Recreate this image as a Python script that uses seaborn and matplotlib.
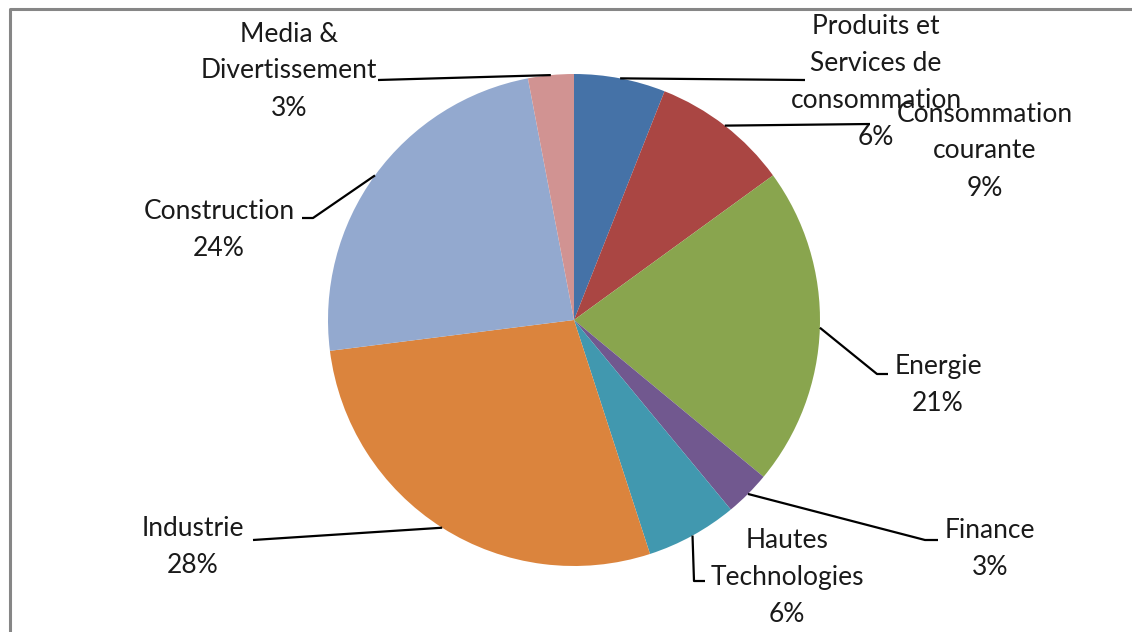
import matplotlib
import matplotlib.pyplot as plt
import numpy as np
import seaborn as sns

matplotlib.use("agg")

# data
sectors = ["Produits et\nServices de\nconsommation", "Consommation\ncourante", "Energie",
           "Finance", "Hautes\nTechnologies", "Industrie", "Construction",
           "Media &\nDivertissement"]
shares = [6, 9, 21, 3, 6, 28, 24, 3]
colors = ["#4572A7", "#AA4643", "#89A54E", "#71588F", "#4198AF", "#DB843D",
          "#93A9CF", "#D19392"]

# label layout in pixels (x, y from top): text centre, leader elbow, leader end
W, H = 1132, 632
CX, CY, R = 574, 320, 246
label_pos = [(876, 82), (985, 151), (938, 385), (990, 549), (787, 577),
             (193, 547), (219, 230), (289, 71)]
elbows = [None, None, (877, 374), (925, 540), (694, 581), None, (313, 218), None]
ends = [(805, 80), (870, 124), (888, 374), (938, 540), (705, 581),
        (253, 540), (302, 218), (378, 80)]

sns.set_theme(style="white")
plt.rcParams["font.family"] = ["Lato", "DejaVu Sans"]

fig = plt.figure(figsize=(W / 100, H / 100), dpi=100)
ax = fig.add_axes([0, 0, 1, 1])

wedges, _ = ax.pie(shares, colors=colors, startangle=90, counterclock=False,
                   center=(CX, H - CY), radius=R, frame=True,
                   wedgeprops=dict(linewidth=0))
ax.set_xlim(0, W)
ax.set_ylim(0, H)
ax.set_aspect("equal")
ax.axis("off")

total = sum(shares)
cum = np.cumsum([0] + shares)
for i, name in enumerate(sectors):
    mid = np.deg2rad(90 - (cum[i] + shares[i] / 2) / total * 360)
    x0, y0 = CX + R * np.cos(mid), H - CY + R * np.sin(mid)
    xs, ys = [x0], [y0]
    if elbows[i]:
        xs.append(elbows[i][0])
        ys.append(H - elbows[i][1])
    xs.append(ends[i][0])
    ys.append(H - ends[i][1])
    ax.plot(xs, ys, color="black", lw=1.6, solid_capstyle="butt")
    tx, ty = label_pos[i]
    ax.text(tx, H - ty, f"{name}\n{shares[i]}%", ha="center", va="center",
            fontsize=19, color="#1a1a1a", linespacing=1.6)

# chart area border (cropped on right and bottom)
ax.plot([10, 10, W + 5], [-5, H - 9, H - 9], color="#868686", lw=2.2,
        clip_on=False)

fig.savefig("out.png", dpi=100)
